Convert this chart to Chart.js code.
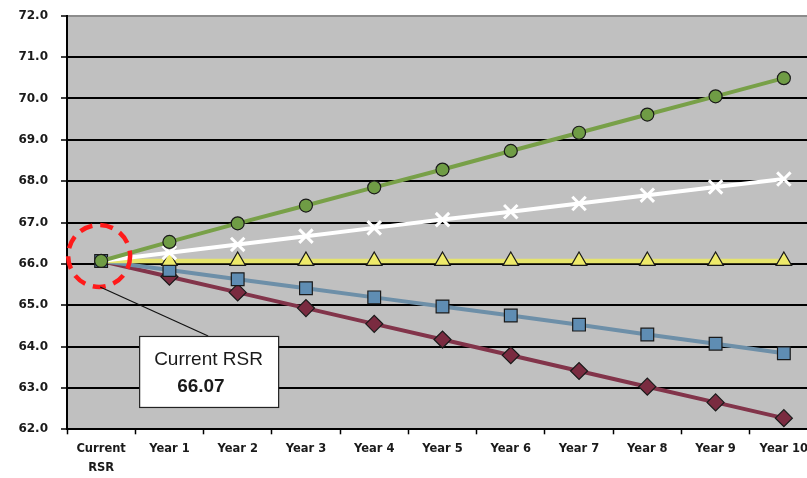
<!DOCTYPE html>
<html>
<head>
<meta charset="utf-8">
<script src="https://cdn.jsdelivr.net/npm/chart.js@4/dist/chart.umd.min.js"></script>
<style>
  html, body { margin: 0; padding: 0; background: #ffffff; overflow: hidden; }
  #wrap { width: 832px; height: 478px; }
</style>
</head>
<body>
<div id="wrap"><canvas id="rsr" width="832" height="478"></canvas></div>
<script>
// Projection periods along the x axis
const periods = [['Current', 'RSR'], 'Year 1', 'Year 2', 'Year 3', 'Year 4', 'Year 5',
                 'Year 6', 'Year 7', 'Year 8', 'Year 9', 'Year 10'];

// Starting value shared by every scenario
const currentRSR = 66.07;

// Scenario series (RSR per year)
const highGrowth   = [66.07, 66.53, 66.98, 67.41, 67.85, 68.28, 68.73, 69.17, 69.61, 70.05, 70.49];
const modestGrowth = [66.07, 66.27, 66.47, 66.67, 66.87, 67.07, 67.26, 67.46, 67.66, 67.86, 68.05];
const flat         = [66.07, 66.07, 66.07, 66.07, 66.07, 66.07, 66.07, 66.07, 66.07, 66.07, 66.07];
const modestDecline= [66.07, 65.85, 65.63, 65.41, 65.19, 64.97, 64.75, 64.53, 64.29, 64.07, 63.84];
const steepDecline = [66.07, 65.69, 65.31, 64.93, 64.55, 64.17, 63.79, 63.41, 63.03, 62.65, 62.27];

// Value axis range
const yMin = 62, yMax = 72, yStep = 1;

// Marker size that hides the shared starting marker of a series
const hideFirst = (r) => (c) => (c.dataIndex === 0 ? 0 : r);

const plotBackground = {
  id: 'plotBackground',
  beforeDraw(chart) {
    const { ctx, chartArea: a } = chart;
    ctx.save();
    ctx.fillStyle = '#c0c0c0';
    ctx.fillRect(a.left, a.top, a.right - a.left, a.bottom - a.top);
    ctx.restore();
  }
};

// Callout marking the starting value
const currentCallout = {
  id: 'currentCallout',
  afterDatasetsDraw(chart) {
    const { ctx } = chart;
    const px = chart.scales.x.getPixelForValue(0);
    const py = chart.scales.y.getPixelForValue(currentRSR);
    ctx.save();
    // dashed ring
    ctx.strokeStyle = '#ff1a1a';
    ctx.lineWidth = 4.5;
    ctx.setLineDash([13, 8]);
    ctx.beginPath();
    ctx.arc(px - 2, py - 5, 31, 0, Math.PI * 2);
    ctx.stroke();
    ctx.setLineDash([]);
    // leader line
    ctx.strokeStyle = '#111';
    ctx.lineWidth = 1.2;
    ctx.beginPath();
    ctx.moveTo(px - 1, py + 26);
    ctx.lineTo(px + 107, py + 75);
    ctx.stroke();
    // label box
    const bx = px + 38, by = py + 75, bw = 139, bh = 71;
    ctx.fillStyle = '#ffffff';
    ctx.fillRect(bx, by, bw, bh);
    ctx.strokeStyle = '#222';
    ctx.lineWidth = 1.2;
    ctx.strokeRect(bx + 0.5, by + 0.5, bw, bh);
    ctx.fillStyle = '#1a1a1a';
    ctx.textAlign = 'left';
    ctx.textBaseline = 'alphabetic';
    ctx.font = '19px "Liberation Sans", Arial, sans-serif';
    ctx.fillText('Current RSR', bx + 15, by + 29);
    ctx.font = 'bold 19px "Liberation Sans", Arial, sans-serif';
    ctx.fillText(currentRSR.toFixed(2), bx + 38, by + 56);
    ctx.restore();
  }
};

const xFont = { family: '"DejaVu Sans", sans-serif', size: 11.5, weight: 'bold', lineHeight: 1.65 };
const yFont = { family: '"DejaVu Sans", sans-serif', size: 12, weight: 'bold', lineHeight: 1.2 };

new Chart(document.getElementById('rsr'), {
  type: 'line',
  data: {
    labels: periods,
    datasets: [
      {
        label: 'High growth', data: highGrowth,
        borderColor: '#78a048', borderWidth: 4,
        pointStyle: 'circle', pointRadius: 6.5, pointBackgroundColor: '#6f9c45',
        pointBorderColor: '#1a1a1a', pointBorderWidth: 1.2, order: 1
      },
      {
        label: 'Modest growth', data: modestGrowth,
        borderColor: '#ffffff', borderWidth: 4,
        pointStyle: 'crossRot', pointRadius: hideFirst(9.5), pointBorderColor: '#ffffff',
        pointBorderWidth: 3, order: 2
      },
      {
        label: 'Flat', data: flat,
        borderColor: '#e6e46c', borderWidth: 4.5,
        pointStyle: 'triangle', pointRadius: hideFirst(9), pointBackgroundColor: '#eeea6a',
        pointBorderColor: '#1a1a1a', pointBorderWidth: 1.2, order: 3
      },
      {
        label: 'Modest decline', data: modestDecline,
        borderColor: '#6d8fa8', borderWidth: 4,
        pointStyle: 'rect', pointRadius: 9, pointBackgroundColor: '#5f8db3',
        pointBorderColor: '#1a1a1a', pointBorderWidth: 1.2, order: 4
      },
      {
        label: 'Steep decline', data: steepDecline,
        borderColor: '#82344a', borderWidth: 4,
        pointStyle: 'rectRot', pointRadius: hideFirst(8.5), pointBackgroundColor: '#7a2b40',
        pointBorderColor: '#1a1a1a', pointBorderWidth: 1.2, order: 5
      }
    ]
  },
  options: {
    responsive: false,
    animation: false,
    layout: { padding: { left: 0, right: 14, top: 15.7, bottom: 0 } },
    plugins: { legend: { display: false }, tooltip: { enabled: false } },
    elements: { line: { tension: 0 } },
    scales: {
      x: {
        type: 'category',
        offset: true,
        grid: { display: true, offset: true, drawOnChartArea: false, drawTicks: true,
                tickLength: 5, tickColor: '#000', tickWidth: 1.5 },
        border: { display: true, color: '#000', width: 2 },
        ticks: { color: '#1a1a1a', font: xFont, padding: 5, maxRotation: 0, autoSkip: false },
        afterFit(scale) { scale.height = 48.7; }
      },
      y: {
        min: yMin, max: yMax,
        grid: {
          color: (c) => (c.tick && c.tick.value === yMax ? '#8c8c8c' : '#000'),
          lineWidth: 2, tickLength: 6, tickColor: '#000', tickWidth: 1.5
        },
        border: { display: true, color: '#000', width: 2 },
        ticks: { stepSize: yStep, color: '#1a1a1a', font: yFont, padding: 13,
                 callback: (v) => Number(v).toFixed(1) },
        afterFit(scale) {
          scale.width = 67;
          scale.paddingTop = 0;
          scale.paddingBottom = 0;
        }
      }
    }
  },
  plugins: [plotBackground, currentCallout]
});
</script>
</body>
</html>
